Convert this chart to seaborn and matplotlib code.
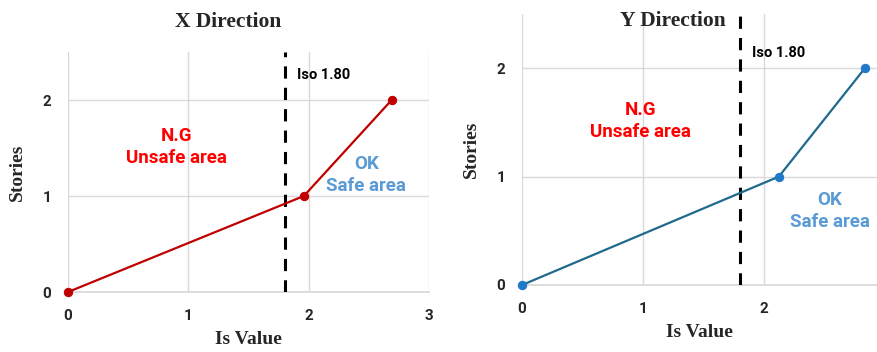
import matplotlib
matplotlib.use("Agg")
import matplotlib.pyplot as plt
import pandas as pd
import seaborn as sns

# Is value vs story
stories = [0, 1, 2]
is_x = [0.0, 1.96, 2.69]
is_y = [0.0, 2.12, 2.83]
iso_limit = 1.80

x_ticks = [0, 1, 2, 3]
y_ticks = [0, 1, 2]

sns.set_theme(style="white")
plt.rcParams["font.family"] = ["Roboto", "DejaVu Sans"]

SERIF = ["Liberation Serif", "DejaVu Serif"]
GRID = "#d9d9d9"

fig = plt.figure(figsize=(8.77, 3.52), dpi=100)
ax_l = fig.add_axes([68 / 877, 60 / 352, 361 / 877, 240 / 352])
ax_r = fig.add_axes([522 / 877, 67 / 352, 355 / 877, 271 / 352])


def draw_panel(ax, xs, color, mcolor, xlim, tick_list, title, title_xy, text_pos):
    df = pd.DataFrame({"is_value": xs, "story": stories})
    ax.axvline(iso_limit, color="black", ls=(0, (4, 3)), lw=2.2, zorder=3)
    sns.lineplot(data=df, x="is_value", y="story", ax=ax, color=color, lw=1.6,
                 marker="o", markersize=6, markerfacecolor=mcolor,
                 markeredgecolor=mcolor, sort=False, zorder=4, clip_on=False)
    ax.set_xlim(*xlim)
    ax.set_ylim(0, 2.5)
    ax.set_xticks(tick_list)
    ax.set_yticks(y_ticks)
    ax.grid(True, color=GRID, lw=1)
    for s in ["top", "right", "left"]:
        ax.spines[s].set_visible(False)
    ax.spines["bottom"].set_color(GRID)
    ax.tick_params(length=0, labelsize=11, pad=12)
    for lab in ax.get_xticklabels() + ax.get_yticklabels():
        lab.set_fontweight("bold")
    ax.set_xlabel("Is Value", fontsize=14, fontweight="bold", family=SERIF, labelpad=6)
    ax.set_ylabel("Stories", fontsize=14, fontweight="bold", family=SERIF, labelpad=12)
    ax.text(title_xy[0], title_xy[1], title, transform=ax.transAxes, fontsize=15.5,
            fontweight="bold", family=SERIF, ha="center", va="baseline")

    (ngx, ngy), (okx, oky), (isx, isy) = text_pos
    ax.text(ngx, ngy, "N.G\nUnsafe area", color="#ff0000", fontsize=13.5,
            fontweight="bold", ha="center", va="center", linespacing=1.3)
    ax.text(okx, oky, "OK\nSafe area", color="#5b9bd5", fontsize=13.5,
            fontweight="bold", ha="center", va="center", linespacing=1.3)
    ax.text(isx, isy, "Iso 1.80", color="black", fontsize=10.5,
            fontweight="bold", ha="left", va="center")


draw_panel(ax_l, is_x, "#c00000", "#c00000", (0, 3), x_ticks,
           "X Direction", (0.443, 1.105),
           [(0.90, 1.51), (2.48, 1.22), (1.90, 2.26)])
draw_panel(ax_r, is_y, "#1f6a8c", "#1f78c8", (0, 2.93), x_ticks[:3],
           "Y Direction", (0.425, 0.955),
           [(0.975, 1.51), (2.54, 0.68), (1.90, 2.14)])

fig.savefig("out.png", dpi=100)
